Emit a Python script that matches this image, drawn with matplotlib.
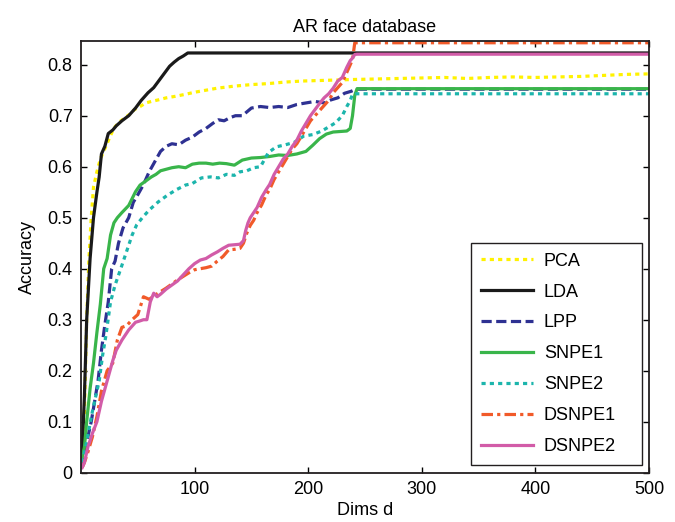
import numpy as np
import matplotlib
matplotlib.use("Agg")
import matplotlib.pyplot as plt

plt.rcParams['font.family'] = ['Liberation Sans', 'DejaVu Sans']

# PCA
pca_d = [1, 3, 5, 7, 9, 11, 14, 17, 20, 25, 29, 34, 38, 43, 47, 52, 57, 62, 68, 75, 83, 92, 100, 110,
         120, 135, 150, 165, 180, 195, 210, 225, 240, 260, 280, 300, 320, 340, 360, 380, 400, 420,
         440, 460, 480, 500]
pca_acc = [0.05, 0.12, 0.30, 0.42, 0.50, 0.56, 0.59, 0.615, 0.63, 0.656, 0.676, 0.688, 0.695, 0.703,
           0.712, 0.718, 0.725, 0.728, 0.731, 0.735, 0.738, 0.742, 0.746, 0.750, 0.754, 0.758, 0.761,
           0.763, 0.766, 0.768, 0.769, 0.770, 0.771, 0.772, 0.773, 0.774, 0.775, 0.773, 0.775, 0.776,
           0.775, 0.776, 0.777, 0.779, 0.781, 0.782]

# LDA
lda_d = [1, 3, 5, 8, 11, 14, 16, 18, 21, 24, 28, 31, 36, 42, 48, 53, 59, 64, 69, 74, 78, 82, 86, 90,
         94, 500]
lda_acc = [0.04, 0.15, 0.30, 0.42, 0.50, 0.55, 0.58, 0.625, 0.64, 0.665, 0.672, 0.68, 0.69, 0.70,
           0.715, 0.73, 0.745, 0.755, 0.77, 0.785, 0.797, 0.805, 0.812, 0.817, 0.823, 0.823]

# LPP
lpp_d = [1, 3, 6, 9, 12, 15, 18, 21, 24, 27, 30, 33, 37, 42, 46, 50, 55, 60, 65, 70, 75, 80, 86, 92,
         98, 104, 110, 116, 121, 126, 131, 136, 142, 150, 158, 166, 174, 182, 190, 198, 206, 214,
         220, 226, 232, 238, 242, 500]
lpp_acc = [0.01, 0.03, 0.07, 0.10, 0.14, 0.18, 0.24, 0.29, 0.335, 0.40, 0.415, 0.45, 0.48, 0.50,
           0.53, 0.545, 0.565, 0.59, 0.61, 0.63, 0.64, 0.645, 0.643, 0.652, 0.658, 0.668, 0.675,
           0.685, 0.692, 0.690, 0.696, 0.700, 0.700, 0.715, 0.718, 0.716, 0.718, 0.716, 0.722,
           0.725, 0.728, 0.725, 0.731, 0.735, 0.744, 0.748, 0.752, 0.752]

# SNPE1
snpe1_d = [1, 3, 5, 8, 11, 14, 17, 20, 23, 26, 29, 32, 36, 42, 48, 52, 57, 62, 66, 70, 75, 80, 86,
           92, 98, 104, 110, 116, 122, 128, 135, 142, 150, 158, 166, 174, 182, 190, 198, 204, 210,
           216, 222, 228, 234, 237, 239, 241, 243, 500]
snpe1_acc = [0.03, 0.05, 0.10, 0.165, 0.215, 0.275, 0.33, 0.40, 0.42, 0.466, 0.49, 0.50, 0.51,
             0.524, 0.551, 0.564, 0.572, 0.58, 0.585, 0.592, 0.595, 0.598, 0.60, 0.598, 0.605,
             0.607, 0.607, 0.605, 0.607, 0.606, 0.603, 0.613, 0.617, 0.618, 0.62, 0.623, 0.622,
             0.625, 0.63, 0.642, 0.655, 0.664, 0.668, 0.669, 0.670, 0.675, 0.70, 0.74, 0.753, 0.753]

# SNPE2
snpe2_d = [1, 3, 5, 7, 10, 13, 16, 19, 22, 26, 30, 35, 40, 45, 49, 54, 60, 68, 76, 84, 92, 98, 106,
           114, 121, 128, 135, 140, 146, 152, 158, 165, 172, 180, 188, 196, 204, 212, 218, 224,
           230, 234, 237, 239, 242, 500]
snpe2_acc = [0.02, 0.04, 0.06, 0.085, 0.12, 0.15, 0.18, 0.23, 0.27, 0.335, 0.368, 0.40, 0.433,
             0.466, 0.486, 0.50, 0.515, 0.531, 0.544, 0.555, 0.564, 0.567, 0.578, 0.580, 0.578,
             0.585, 0.583, 0.590, 0.592, 0.598, 0.600, 0.628, 0.639, 0.643, 0.648, 0.660, 0.663,
             0.670, 0.678, 0.686, 0.700, 0.718, 0.73, 0.742, 0.743, 0.743]

# DSNPE1
dsnpe1_d = [1, 3, 6, 10, 14, 18, 23, 28, 32, 36, 40, 45, 50, 55, 60, 65, 70, 75, 80, 85, 90, 95,
            100, 105, 110, 115, 120, 125, 130, 135, 140, 143, 146, 149, 152, 155, 159, 163, 166,
            170, 174, 178, 182, 186, 190, 194, 198, 202, 206, 210, 214, 218, 222, 226, 230, 234,
            237, 239, 241, 500]
dsnpe1_acc = [0.01, 0.02, 0.04, 0.07, 0.11, 0.16, 0.20, 0.215, 0.26, 0.285, 0.288, 0.30, 0.31,
              0.345, 0.34, 0.348, 0.355, 0.362, 0.37, 0.378, 0.385, 0.392, 0.398, 0.40, 0.402,
              0.405, 0.415, 0.424, 0.437, 0.438, 0.44, 0.45, 0.47, 0.485, 0.495, 0.51, 0.525,
              0.545, 0.555, 0.575, 0.59, 0.605, 0.62, 0.635, 0.645, 0.66, 0.675, 0.69, 0.70, 0.71,
              0.72, 0.73, 0.745, 0.755, 0.765, 0.785, 0.80, 0.81, 0.843, 0.843]

# DSNPE2
dsnpe2_d = [1, 3, 6, 10, 14, 18, 23, 28, 31, 36, 42, 48, 51, 55, 58, 61, 64, 67, 70, 75, 80, 85,
            90, 95, 100, 105, 110, 115, 120, 125, 130, 135, 140, 143, 145, 147, 149, 152, 155,
            159, 163, 166, 170, 174, 178, 182, 186, 190, 194, 198, 202, 206, 210, 214, 218, 222,
            226, 230, 234, 237, 239, 241, 243, 500]
dsnpe2_acc = [0.01, 0.02, 0.05, 0.077, 0.10, 0.14, 0.18, 0.22, 0.24, 0.26, 0.28, 0.295, 0.297,
              0.30, 0.30, 0.335, 0.352, 0.345, 0.35, 0.36, 0.368, 0.376, 0.388, 0.40, 0.41,
              0.417, 0.42, 0.427, 0.433, 0.44, 0.446, 0.447, 0.448, 0.455, 0.475, 0.49, 0.50,
              0.51, 0.52, 0.54, 0.555, 0.565, 0.585, 0.60, 0.615, 0.625, 0.64, 0.652, 0.67, 0.685,
              0.700, 0.712, 0.724, 0.735, 0.743, 0.754, 0.768, 0.775, 0.795, 0.808, 0.813, 0.82,
              0.8206, 0.8206]

fig = plt.figure(figsize=(6.75, 5.22), dpi=100)
ax = fig.add_axes([0.12, 0.0944, 0.8415, 0.8266])

lw = 2.3
ax.plot(pca_d, pca_acc, color='#FFF200', lw=lw, dashes=(1.3, 1.3), label='PCA')
ax.plot(lda_d, lda_acc, color='#1A1A1A', lw=lw, label='LDA')
ax.plot(lpp_d, lpp_acc, color='#2E3192', lw=lw, dashes=(3.2, 1.4), label='LPP')
ax.plot(snpe1_d, snpe1_acc, color='#39B54A', lw=lw, label='SNPE1')
ax.plot(snpe2_d, snpe2_acc, color='#1CB5AC', lw=lw, dashes=(1.3, 1.3), label='SNPE2')
ax.plot(dsnpe1_d, dsnpe1_acc, color='#F15A29', lw=lw, dashes=(3.6, 1.3, 1.0, 1.3), label='DSNPE1')
ax.plot(dsnpe2_d, dsnpe2_acc, color='#D25CA8', lw=lw, label='DSNPE2')

ax.set_xlim(0, 500)
ax.set_ylim(0, 0.846)
ax.set_xticks([100, 200, 300, 400, 500])
ax.set_yticks([0, 0.1, 0.2, 0.3, 0.4, 0.5, 0.6, 0.7, 0.8])
ax.set_yticklabels(['0', '0.1', '0.2', '0.3', '0.4', '0.5', '0.6', '0.7', '0.8'])
ax.tick_params(direction='in', top=True, right=True, length=4.5, width=1, labelsize=13, pad=6)
for s in ax.spines.values():
    s.set_linewidth(1.3)
    s.set_color('#231F20')

ax.set_title('AR face database', fontsize=13, pad=7)
ax.set_xlabel('Dims d', fontsize=13, labelpad=3)
ax.set_ylabel('Accuracy', fontsize=13, labelpad=8)

leg = ax.legend(loc='lower left', bbox_to_anchor=(0.686, 0.018, 0.302, 0.5), mode='expand',
                fontsize=13, fancybox=False, framealpha=1, edgecolor='#231F20',
                handlelength=2.9, labelspacing=0.77, borderaxespad=0, handletextpad=0.6,
                borderpad=0.55)
leg.get_frame().set_linewidth(1.0)

fig.savefig('out.png', dpi=100)
